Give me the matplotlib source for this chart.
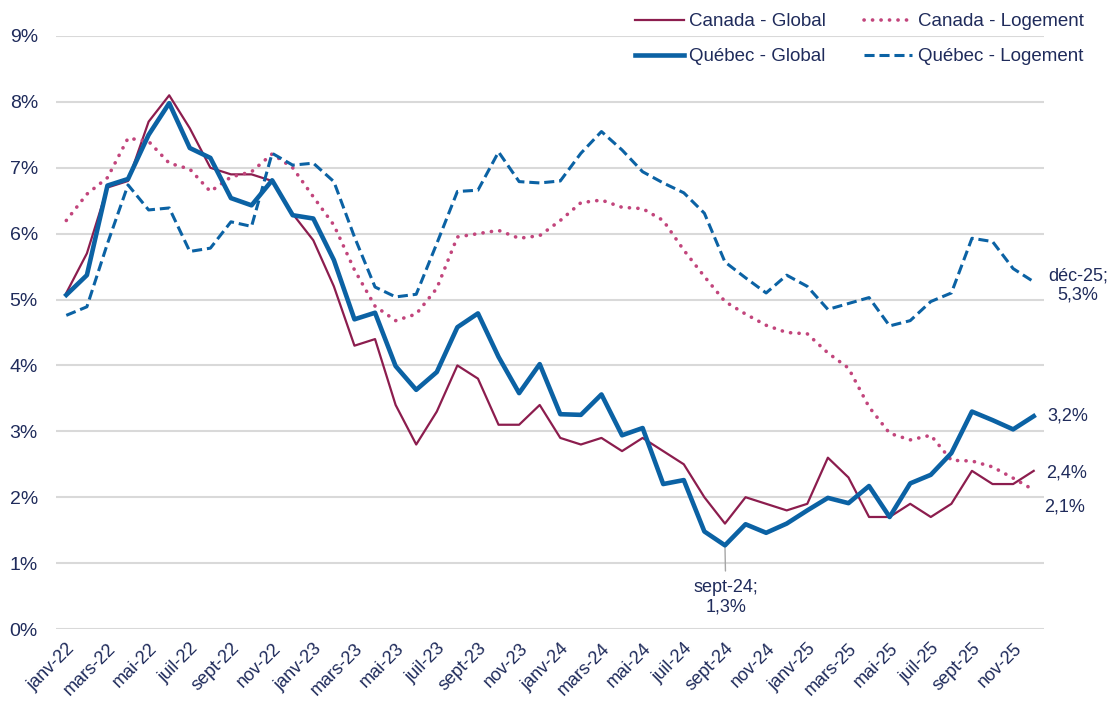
import matplotlib
matplotlib.use("Agg")
import matplotlib.pyplot as plt
import numpy as np

months = ["janv", "févr", "mars", "avr", "mai", "juin", "juil", "août", "sept", "oct", "nov", "déc"]
years = ["22", "23", "24", "25"]
labels = [f"{m}-{y}" for y in years for m in months]

canada_global = [5.1, 5.7, 6.7, 6.8, 7.7, 8.1, 7.6, 7.0, 6.9, 6.9, 6.8, 6.3,
                 5.9, 5.2, 4.3, 4.4, 3.4, 2.8, 3.3, 4.0, 3.8, 3.1, 3.1, 3.4,
                 2.9, 2.8, 2.9, 2.7, 2.9, 2.7, 2.5, 2.0, 1.6, 2.0, 1.9, 1.8,
                 1.9, 2.6, 2.3, 1.7, 1.7, 1.9, 1.7, 1.9, 2.4, 2.2, 2.2, 2.4]
canada_logement = [6.2, 6.6, 6.85, 7.45, 7.4, 7.07, 6.98, 6.64, 6.86, 6.94, 7.21, 7.0,
                   6.56, 6.13, 5.45, 4.9, 4.68, 4.78, 5.17, 5.95, 6.0, 6.05, 5.93, 5.97,
                   6.2, 6.47, 6.51, 6.4, 6.38, 6.2, 5.75, 5.35, 4.97, 4.78, 4.61, 4.5,
                   4.48, 4.19, 3.96, 3.37, 2.97, 2.87, 2.94, 2.56, 2.55, 2.46, 2.29, 2.11]
quebec_global = [5.07, 5.37, 6.73, 6.83, 7.5, 7.98, 7.3, 7.15, 6.54, 6.43, 6.81, 6.28,
                 6.23, 5.6, 4.7, 4.8, 3.99, 3.63, 3.9, 4.58, 4.79, 4.13, 3.58, 4.02,
                 3.26, 3.25, 3.56, 2.94, 3.05, 2.2, 2.26, 1.48, 1.27, 1.59, 1.46, 1.6,
                 1.8, 1.99, 1.91, 2.17, 1.7, 2.21, 2.34, 2.67, 3.3, 3.17, 3.03, 3.23]
quebec_logement = [4.76, 4.89, 5.85, 6.74, 6.36, 6.39, 5.73, 5.78, 6.18, 6.11, 7.22, 7.04,
                   7.07, 6.79, 5.95, 5.19, 5.04, 5.08, 5.85, 6.64, 6.66, 7.24, 6.79, 6.77,
                   6.8, 7.22, 7.55, 7.27, 6.94, 6.77, 6.62, 6.31, 5.57, 5.33, 5.1, 5.37,
                   5.2, 4.85, 4.94, 5.03, 4.6, 4.68, 4.97, 5.1, 5.93, 5.88, 5.47, 5.27]

NAVY = "#1F2B5B"
MAROON = "#8C1D4E"
PINK = "#C2457C"
BLUE = "#0B62A4"

plt.rcParams["font.family"] = ["Liberation Sans", "DejaVu Sans"]

fig = plt.figure(figsize=(11.12, 7.03), dpi=100)
ax = fig.add_axes([56 / 1112, 1 - 629 / 703, (1044 - 56) / 1112, (629 - 36) / 703])

x = np.arange(len(labels))
l1, = ax.plot(x, canada_global, color=MAROON, lw=1.6, label="Canada - Global", zorder=3)
l3, = ax.plot(x, canada_logement, color=PINK, lw=2.6, linestyle=(0, (0.05, 2.3)),
              dash_capstyle="round", label="Canada - Logement", zorder=3)
l2, = ax.plot(x, quebec_global, color=BLUE, lw=3.3, label="Québec - Global", zorder=4)
l4, = ax.plot(x, quebec_logement, color=BLUE, lw=2.2, linestyle=(0, (3.3, 1.6)),
              label="Québec - Logement", zorder=3)

ax.set_xlim(-0.5, len(labels) - 0.5)
ax.set_ylim(0, 9)
ax.set_yticks(range(0, 10))
ax.set_yticklabels([f"{v}%" for v in range(0, 10)])
ax.set_xticks(x[::2])
ax.set_xticklabels(labels[::2], rotation=45, ha="right", rotation_mode="anchor")
ax.tick_params(axis="both", length=0, colors=NAVY)
ax.tick_params(axis="y", pad=13, labelsize=14)
ax.tick_params(axis="x", pad=8, labelsize=13)
ax.grid(axis="y", color="#D9D9D9", lw=1.5)
ax.set_axisbelow(True)
for s in ax.spines.values():
    s.set_visible(False)

leg = fig.legend(handles=[l1, l2, l3, l4], ncol=2, loc="upper right",
                 bbox_to_anchor=(1097 / 1112, 1 - 0 / 703), frameon=False,
                 fontsize=13.5, handlelength=2.6, handletextpad=0.3,
                 columnspacing=2.0, labelspacing=0.95, borderpad=0.2)
for t in leg.get_texts():
    t.set_color(NAVY)

fs = 13
ax.annotate("déc-25;\n5,3%", xy=(47, quebec_logement[47]), xytext=(44, -4),
            textcoords="offset pixels", ha="center", va="center", color=NAVY,
            fontsize=fs, linespacing=1.15, annotation_clip=False)
ax.annotate("3,2%", xy=(47, quebec_global[47]), xytext=(14, 0),
            textcoords="offset pixels", ha="left", va="center", color=NAVY,
            fontsize=fs, annotation_clip=False)
ax.annotate("2,4%", xy=(47, canada_global[47]), xytext=(12, -2),
            textcoords="offset pixels", ha="left", va="center", color=NAVY,
            fontsize=fs, annotation_clip=False)
ax.annotate("2,1%", xy=(47, canada_logement[47]), xytext=(10, -17),
            textcoords="offset pixels", ha="left", va="center", color=NAVY,
            fontsize=fs, annotation_clip=False)
ax.annotate("sept-24;\n1,3%", xy=(32, quebec_global[32]), xytext=(1, -34),
            textcoords="offset pixels", ha="center", va="top", color=NAVY,
            fontsize=fs, linespacing=1.15, annotation_clip=False,
            arrowprops=dict(arrowstyle="-", color="#A6A6A6", lw=1.0,
                            shrinkA=4, shrinkB=0))

fig.savefig("out.png", dpi=100)
